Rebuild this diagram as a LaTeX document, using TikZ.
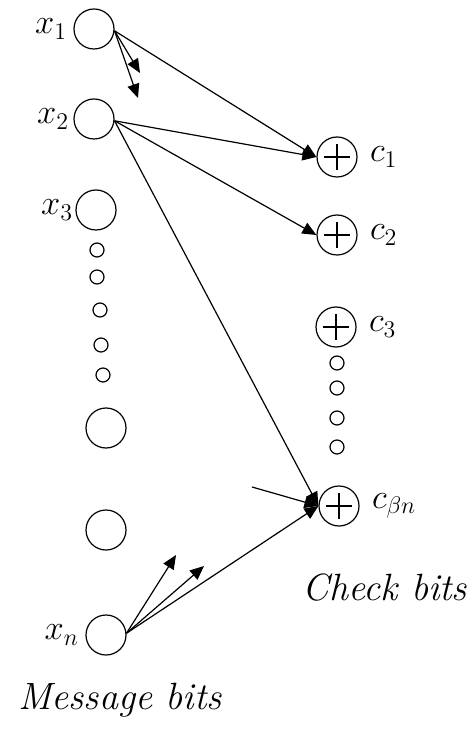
\documentclass[tikz,border=0pt]{standalone}
\usetikzlibrary{arrows.meta, positioning}

\tikzset{
  bit/.style={circle, draw, line width=0.6pt, minimum size=20pt, inner sep=0pt},
  gap/.style={circle, draw, line width=0.6pt, minimum size=7pt, inner sep=0pt},
  chk/.style={bit, path picture={
      \draw[line width=0.6pt] (path picture bounding box.center) ++(-6.5pt,0) -- ++(13pt,0);
      \draw[line width=0.6pt] (path picture bounding box.center) ++(0,-6.5pt) -- ++(0,13pt);}},
  arr/.style={line width=0.6pt, -{Triangle[length=7pt,width=6pt]}},
  lab/.style={font=\fontsize{17}{20}\selectfont, inner sep=1pt},
  big/.style={font=\itshape\fontsize{19}{22}\selectfont, inner sep=0pt},
}

\begin{document}
\begin{tikzpicture}[x=0.5pt, y=-0.5pt]
    \useasboundingbox (0,0) rectangle (468,742);
    \node[bit] (x1) at (94,29) {};
    \node[bit] (x2) at (94,119) {};
    \node[bit] (x3) at (96,210) {};
    \node[gap] (xd1) at (97,250) {};
    \node[gap] (xd2) at (97,277) {};
    \node[gap] (xd3) at (100,310) {};
    \node[gap] (xd4) at (101,345) {};
    \node[gap] (xd5) at (103,375) {};
    \node[bit] (x4) at (106,428) {};
    \node[bit] (x5) at (106,530) {};
    \node[bit] (xn) at (106,635) {};
    \node[lab, left=2pt of x1] {$x_1$};
    \node[lab, left=1pt of x2] {$x_2$};
    \node[lab, left=0pt of x3] {$x_3$};
    \node[lab, left=2pt of xn] {$x_n$};

    \node[chk] (c1) at (337,157) {};
    \node[chk] (c2) at (337,235) {};
    \node[chk] (c3) at (336,327) {};
    \node[gap] (cd1) at (337,363) {};
    \node[gap] (cd2) at (337,388) {};
    \node[gap] (cd3) at (337,418) {};
    \node[gap] (cd4) at (337,447) {};
    \node[chk] (cb) at (339,506) {};
    \node[lab, right=5pt of c1] {$c_1$};
    \node[lab, right=5pt of c2] {$c_2$};
    \node[lab, right=5pt of c3] {$c_3$};
    \node[lab, right=5pt of cb] {$c_{\beta n}$};

    \coordinate (a1) at (140,73);
    \coordinate (a2) at (138,98);
    \coordinate (b1) at (176,555);
    \coordinate (b2) at (204,566);
    \coordinate (in) at (252,487);

    \draw[arr] (x1.-5) -- (c1.west);
    \draw[arr] (x1.-5) -- (a1);
    \draw[arr] (x1.-5) -- (a2);
    \draw[arr] (x2.-5) -- (c1.west);
    \draw[arr] (x2.-5) -- (c2.west);
    \draw[arr] (x2.-5) -- (cb.west);
    \draw[arr] (xn.5) -- (cb.west);
    \draw[arr] (xn.5) -- (b1);
    \draw[arr] (xn.5) -- (b2);
    \draw[arr] (in) -- (cb.west);

    \node[big] at (385,588) {Check bits};
    \node[big] at (120,700) {Message bits};
\end{tikzpicture}
\end{document}
